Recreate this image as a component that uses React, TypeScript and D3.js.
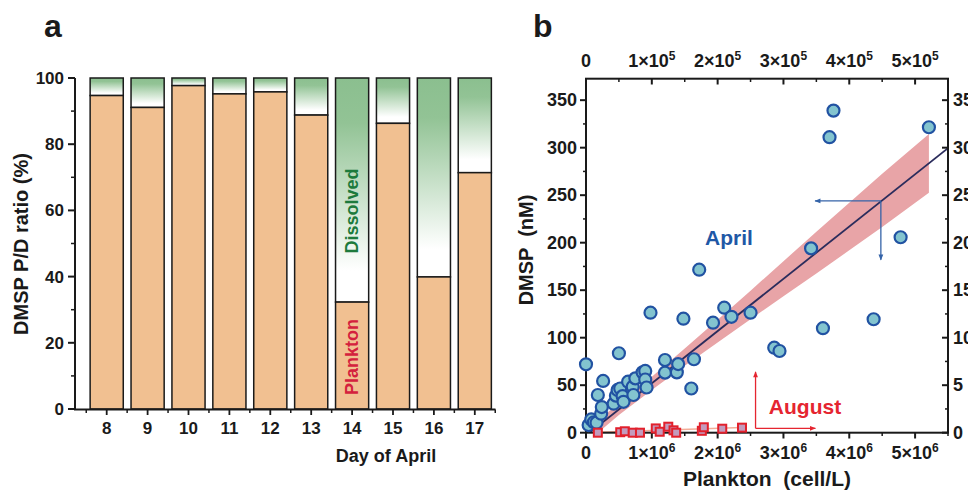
import React from 'react';
import * as d3 from 'd3';

// ---------- Panel a data ----------
const days = ['8', '9', '10', '11', '12', '13', '14', '15', '16', '17'];
const planktonPct = [94.7, 91.1, 97.7, 95.2, 95.8, 88.8, 32.3, 86.3, 39.9, 71.4];
const yTicksA = [0, 20, 40, 60, 80, 100];
const yMinorA = [10, 30, 50, 70, 90];

// ---------- Panel b data ----------
// April: plankton (x 10^6 cell/L, bottom axis), DMSP (nM, left axis)
const aprilCells = [0.00, 0.04, 0.08, 0.12, 0.16, 0.18, 0.23, 0.24, 0.26, 0.42, 0.455, 0.48, 0.50, 0.52, 0.556, 0.57, 0.64, 0.71, 0.72, 0.75, 0.86, 0.90, 0.90, 0.92, 0.98, 1.20, 1.20, 1.38, 1.40, 1.48, 1.60, 1.64, 1.72, 1.93, 2.10, 2.21, 2.50, 2.86, 2.94, 3.42, 3.60, 3.70, 3.76, 4.37, 4.78, 5.21];
const aprilDMSP = [72, 8, 14, 11, 10.5, 39.7, 20, 27, 54.5, 30.5, 39, 45, 83.6, 46.5, 38.5, 32.5, 53.7, 48.4, 39.7, 57.2, 63.5, 65, 56, 47.6, 126.3, 76.5, 63.2, 63.5, 72.2, 120, 46.5, 77.3, 171.6, 115.8, 131.6, 122, 126.3, 89.5, 86, 194, 110, 311, 339, 119.4, 205.7, 321.5];
// August: plankton (x 10^5 cell/L, top axis), DMSP (right axis)
const augCells = [0.18, 0.52, 0.59, 0.71, 0.82, 1.06, 1.12, 1.25, 1.33, 1.37, 1.76, 1.79, 2.07, 2.37];
const augDMSP = [0, 0.05, 0.15, 0, 0, 0.45, 0.1, 0.63, 0.25, 0, 0.2, 0.57, 0.42, 0.53];
// April linear fit and 95% confidence band
const fitX = [0, 5.5];
const fitY = [-3, 299.5];
const bandX = [0.15, 0.5, 1, 1.5, 2, 2.5, 3, 3.5, 4, 4.5, 5.21];
const bandUpper = [12, 30.5, 59, 88.5, 119, 149.5, 180.5, 211.5, 242, 272.5, 314.5];
const bandLower = [-2, 18.5, 45, 70.5, 95, 119.5, 143.5, 167.5, 192, 216.5, 252.5];
// August fit line
const augFitX = [0.18, 2.37];
const augFitY = [0.05, 0.55];
// Axis ticks
const xTicksB = [0, 1, 2, 3, 4, 5];
const xMinorB = [0.5, 1.5, 2.5, 3.5, 4.5, 5.5];
const yTicksL = [0, 50, 100, 150, 200, 250, 300, 350];
const yMinorL = [25, 75, 125, 175, 225, 275, 325];
const yTicksR = [0, 5, 10, 15, 20, 25, 30, 35];
const yMinorR = [2.5, 7.5, 12.5, 17.5, 22.5, 27.5, 32.5];
// Arrow annotations (bottom/left axis units)
const blueArrow = { cx: 4.48, cy: 244, toX: 3.48, toY: 182 };
const redArrow = { cx: 2.576, cy: 4.6, toX: 3.485, toY: 64 };

const FONT = "'Liberation Sans', Arial, Helvetica, sans-serif";

export default function App() {
  // ---- panel a scales ----
  const yA = d3.scaleLinear().domain([0, 100]).range([409, 78]);
  const xA = d3.scaleBand().domain(days).range([86.25, 495.25]).paddingInner(0.19).paddingOuter(0.095);
  const stepA = xA.step();
  const x0A = 86.25;

  // ---- panel b scales ----
  const xB = d3.scaleLinear().domain([0, 5.5]).range([586, 948]);
  const xT = d3.scaleLinear().domain([0, 5.5]).range([586, 948]);
  const yL = d3.scaleLinear().domain([0, 372.6]).range([432.7, 78.7]);
  const yR = d3.scaleLinear().domain([0, 37.26]).range([432.7, 78.7]);

  const bandData = bandX.map((x, i) => ({ x, lo: bandLower[i], hi: bandUpper[i] }));
  const areaGen = d3.area<any>().x((d) => xB(d.x)).y0((d) => yL(d.lo)).y1((d) => yL(d.hi));
  const lineGen = d3.line<any>().x((d) => xB(d[0])).y((d) => yL(d[1]));
  const augLine = d3.line<any>().x((d) => xT(d[0])).y((d) => yR(d[1]));

  const axisCol = '#1a1a1a';
  const tfs = 18;

  return (
    <svg width={968} height={491} style={{ position: 'absolute', left: 0, top: 0, background: '#fff' }}
      fontFamily={FONT} fontWeight="bold">
      <defs>
        <linearGradient id="dissGrad" x1="0" y1="0" x2="0" y2="1">
          <stop offset="0" stopColor="#8bbf8f" />
          <stop offset="0.2" stopColor="#92c395" />
          <stop offset="0.86" stopColor="#ffffff" />
          <stop offset="1" stopColor="#ffffff" />
        </linearGradient>
        <clipPath id="plotB">
          <rect x={586} y={78.7} width={362} height={354} />
        </clipPath>
        <marker id="arrBlue" viewBox="0 0 10 10" refX="9" refY="5" markerWidth="8" markerHeight="6" orient="auto" markerUnits="userSpaceOnUse">
          <path d="M0,1 L10,5 L0,9 Z" fill="#3463a8" />
        </marker>
        <marker id="arrRed" viewBox="0 0 10 10" refX="9" refY="5" markerWidth="8" markerHeight="6" orient="auto" markerUnits="userSpaceOnUse">
          <path d="M0,1 L10,5 L0,9 Z" fill="#e52530" />
        </marker>
      </defs>

      {/* ================= Panel a ================= */}
      <text x={44} y={37} fontSize={32} fill="#1a1a1a">a</text>

      {days.map((d, i) => {
        const x = xA(d)!;
        const w = xA.bandwidth();
        const p = planktonPct[i];
        return (
          <g key={d}>
            <rect x={x} y={yA(100)} width={w} height={yA(p) - yA(100)} fill="url(#dissGrad)" stroke={axisCol} strokeWidth={1.5} />
            <rect x={x} y={yA(p)} width={w} height={yA(0) - yA(p)} fill="#f1c091" stroke={axisCol} strokeWidth={1.5} />
          </g>
        );
      })}

      {/* Bar labels */}
      <text transform={`translate(${xA('14')! + xA.bandwidth() / 2 + 6},${211}) rotate(-90)`} textAnchor="middle" fontSize={18} fill="#1d7a3c">Dissolved</text>
      <text transform={`translate(${xA('14')! + xA.bandwidth() / 2 + 6},${357}) rotate(-90)`} textAnchor="middle" fontSize={18} fill="#d4213d">Plankton</text>

      {/* y axis a */}
      <line x1={75} x2={75} y1={yA(100)} y2={yA(0) + 1} stroke={axisCol} strokeWidth={2} />
      {yTicksA.map((t) => (
        <g key={t}>
          <line x1={68} x2={75} y1={yA(t)} y2={yA(t)} stroke={axisCol} strokeWidth={2} />
          <text x={64} y={yA(t) + 6} textAnchor="end" fontSize={17} fill="#1a1a1a">{t}</text>
        </g>
      ))}
      {yMinorA.map((t) => (
        <line key={t} x1={71} x2={75} y1={yA(t)} y2={yA(t)} stroke={axisCol} strokeWidth={1.5} />
      ))}
      {/* x axis a */}
      <line x1={74} x2={495.5} y1={409.5} y2={409.5} stroke={axisCol} strokeWidth={2} />
      {days.map((d) => (
        <g key={d}>
          <line x1={xA(d)! + xA.bandwidth() / 2} x2={xA(d)! + xA.bandwidth() / 2} y1={409.5} y2={415} stroke={axisCol} strokeWidth={1.8} />
          <text x={xA(d)! + xA.bandwidth() / 2} y={433.5} textAnchor="middle" fontSize={17} fill="#1a1a1a">{d}</text>
        </g>
      ))}
      {d3.range(days.length + 1).map((i) => (
        <line key={i} x1={x0A + i * stepA} x2={x0A + i * stepA} y1={409.5} y2={413} stroke={axisCol} strokeWidth={1.5} />
      ))}
      <text transform="translate(28,244) rotate(-90)" textAnchor="middle" fontSize={20} fill="#1a1a1a">DMSP P/D ratio (%)</text>
      <text x={386} y={461.5} textAnchor="middle" fontSize={18} fill="#1a1a1a">Day of April</text>

      {/* ================= Panel b ================= */}
      <text x={533} y={37} fontSize={32} fill="#1a1a1a">b</text>

      <g clipPath="url(#plotB)">
        <path d={areaGen(bandData)!} fill="#e8a4a7" stroke="none" />
        <path d={lineGen(fitX.map((x, i) => [x, fitY[i]]))!} fill="none" stroke="#2b2c5c" strokeWidth={1.8} />
        <path d={augLine(augFitX.map((x, i) => [x, augFitY[i]]))!} fill="none" stroke="#f2ad98" strokeWidth={1.6} />
      </g>

      {/* arrows */}
      <path d={`M${xB(blueArrow.cx)},${yL(blueArrow.cy)} H${xB(blueArrow.toX)}`} stroke="#3463a8" strokeWidth={1.3} fill="none" markerEnd="url(#arrBlue)" />
      <path d={`M${xB(blueArrow.cx)},${yL(blueArrow.cy)} V${yL(blueArrow.toY)}`} stroke="#3463a8" strokeWidth={1.3} fill="none" markerEnd="url(#arrBlue)" />
      <path d={`M${xB(redArrow.cx)},${yL(redArrow.cy)} V${yL(redArrow.toY)}`} stroke="#e52530" strokeWidth={1.3} fill="none" markerEnd="url(#arrRed)" />
      <path d={`M${xB(redArrow.cx)},${yL(redArrow.cy)} H${xB(redArrow.toX)}`} stroke="#e52530" strokeWidth={1.3} fill="none" markerEnd="url(#arrRed)" />

      {/* frame */}
      <rect x={586} y={78.7} width={362} height={354} fill="none" stroke={axisCol} strokeWidth={2} />

      {/* left axis */}
      {yTicksL.map((t) => (
        <g key={t}>
          <line x1={580} x2={586} y1={yL(t)} y2={yL(t)} stroke={axisCol} strokeWidth={2} />
          <text x={577} y={yL(t) + 6} textAnchor="end" fontSize={tfs} fill="#1a1a1a">{t}</text>
        </g>
      ))}
      {yMinorL.map((t) => (
        <line key={t} x1={583} x2={586} y1={yL(t)} y2={yL(t)} stroke={axisCol} strokeWidth={1.5} />
      ))}
      {/* right axis */}
      {yTicksR.map((t) => (
        <g key={t}>
          <line x1={942} x2={948} y1={yR(t)} y2={yR(t)} stroke={axisCol} strokeWidth={2} />
          <text x={953} y={yR(t) + 6} textAnchor="start" fontSize={tfs} fill="#1a1a1a">{t}</text>
        </g>
      ))}
      {yMinorR.map((t) => (
        <line key={t} x1={945} x2={948} y1={yR(t)} y2={yR(t)} stroke={axisCol} strokeWidth={1.5} />
      ))}
      {/* bottom axis */}
      {xTicksB.map((t) => (
        <g key={t}>
          <line x1={xB(t)} x2={xB(t)} y1={432.7} y2={438.5} stroke={axisCol} strokeWidth={2} />
          <text x={xB(t)} y={459} textAnchor="middle" fontSize={tfs} fill="#1a1a1a">
            {t === 0 ? '0' : <>{t}×10<tspan dy={-7} fontSize={12}>6</tspan></>}
          </text>
        </g>
      ))}
      {xMinorB.map((t) => (
        <line key={t} x1={xB(t)} x2={xB(t)} y1={432.7} y2={436} stroke={axisCol} strokeWidth={1.5} />
      ))}
      {/* top axis */}
      {xTicksB.map((t) => (
        <g key={t}>
          <line x1={xT(t)} x2={xT(t)} y1={78.7} y2={84.5} stroke={axisCol} strokeWidth={2} />
          <text x={xT(t)} y={67} textAnchor="middle" fontSize={tfs} fill="#1a1a1a">
            {t === 0 ? '0' : <>{t}×10<tspan dy={-7} fontSize={12}>5</tspan></>}
          </text>
        </g>
      ))}
      {xMinorB.map((t) => (
        <line key={t} x1={xT(t)} x2={xT(t)} y1={78.7} y2={82} stroke={axisCol} strokeWidth={1.5} />
      ))}

      {/* April points */}
      {aprilCells.map((x, i) => (
        <circle key={i} cx={xB(x)} cy={yL(aprilDMSP[i])} r={6} fill="#83c4cf" stroke="#2152a2" strokeWidth={2.2} />
      ))}
      {/* August points */}
      {augCells.map((x, i) => (
        <rect key={i} x={xT(x) - 4} y={yR(augDMSP[i]) - 4} width={8} height={8} fill="#c39bbd" stroke="#e2202c" strokeWidth={2} />
      ))}

      <text x={729} y={245} textAnchor="middle" fontSize={21} fill="#1f58a6">April</text>
      <text x={805} y={414} textAnchor="middle" fontSize={21} fill="#e52530">August</text>

      <text transform="translate(533,250) rotate(-90)" textAnchor="middle" fontSize={20} fill="#1a1a1a" style={{ whiteSpace: 'pre' }}>DMSP  (nM)</text>
      <text x={767} y={486} textAnchor="middle" fontSize={21} fill="#1a1a1a" style={{ whiteSpace: 'pre' }}>Plankton  (cell/L)</text>
    </svg>
  );
}
